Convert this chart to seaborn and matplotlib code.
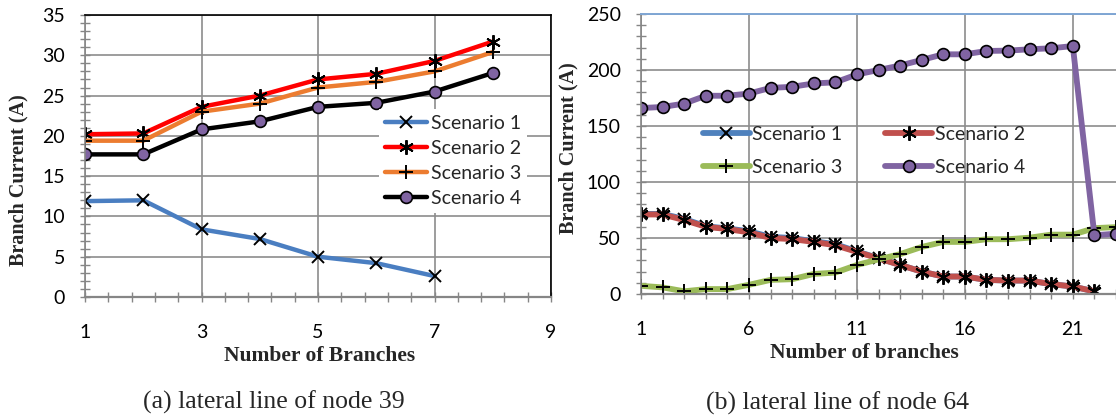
import matplotlib
matplotlib.use("Agg")
import numpy as np
import pandas as pd
import matplotlib.pyplot as plt
import seaborn as sns
from matplotlib.ticker import FixedLocator, MultipleLocator

# ---------------- data ----------------
left_branches = [1, 2, 3, 4, 5, 6, 7, 8]
left_s1 = [11.9, 12.0, 8.4, 7.2, 5.0, 4.2, 2.6]
left_s2 = [20.2, 20.3, 23.6, 25.0, 27.0, 27.7, 29.3, 31.7]
left_s3 = [19.4, 19.4, 23.0, 24.0, 26.0, 26.7, 28.0, 30.4]
left_s4 = [17.7, 17.7, 20.8, 21.8, 23.6, 24.1, 25.5, 27.8]

right_branches = list(range(1, 24))
right_s1 = [71.5, 71.5, 67, 60.5, 58.5, 56, 51, 50, 47, 44.5, 38, 32, 26, 20, 15.6, 15.6, 12.6, 12, 12, 8.8, 6.7, 2.3]
right_s2 = [71, 71, 66, 60, 58, 55, 50, 49, 46.5, 43.5, 37.6, 31.8, 25.9, 20, 15.6, 15.6, 12.6, 12, 12, 8.8, 6.7, 2.3]
right_s3 = [7.3, 5.9, 2.4, 4.4, 4.4, 8.2, 12.6, 13.2, 17.9, 19.1, 25.9, 30.9, 35.6, 42, 46.5, 46.5, 48.9, 48.9, 50.3, 53, 53, 58.8, 59.7]
right_s4 = [166, 167, 170, 177, 177, 179, 184, 185, 188, 189, 196, 200, 204, 209, 214, 214, 217, 217.3, 218.5, 219.4, 221.4, 52.4, 53.9]

labels = ["Scenario 1", "Scenario 2", "Scenario 3", "Scenario 4"]
left_xticks = [1, 3, 5, 7, 9]
right_xticks = [1, 6, 11, 16, 21]

# ---------------- style ----------------
sns.set_style("white")
plt.rcParams["font.family"] = ["Lato", "DejaVu Sans"]
plt.rcParams["axes.unicode_minus"] = False

W, H = 1116, 419
fig = plt.figure(figsize=(W / 100, H / 100), dpi=100)

def px_axes(x0, y0, x1, y1):
    return fig.add_axes([x0 / W, 1 - y1 / H, (x1 - x0) / W, (y1 - y0) / H])

axL = px_axes(85, 15, 551, 297)
axR = px_axes(641, 14, 1116, 294)

GRID = "#8c8c8c"
TICKC = "#868686"
TICK_FS = 14

def series(ax, xs, ys, color, marker, ms, mfc, lw, label, mew=1.4):
    n = len(ys)
    df = pd.DataFrame({"x": xs[:n], "y": ys})
    sns.lineplot(data=df, x="x", y="y", ax=ax, color=color, lw=lw,
                 marker=marker, markersize=ms, markerfacecolor=mfc,
                 markeredgecolor="black", markeredgewidth=mew,
                 label=label, legend=False, sort=False)

# ---- left chart ----
series(axL, left_branches, left_s1, "#4A7EC1", "x", 9, "black", 3.2, labels[0])
series(axL, left_branches, left_s2, "#FF0000", (6, 2, 0), 10.5, "black", 3.2, labels[1])
series(axL, left_branches, left_s3, "#EC7C30", "+", 10, "black", 3.2, labels[2])
series(axL, left_branches, left_s4, "#000000", "o", 8.5, "#8064A2", 3.2, labels[3], mew=1.2)

axL.set_xlim(1, 9)
axL.set_ylim(0, 35)
axL.xaxis.set_major_locator(FixedLocator(left_xticks))
axL.xaxis.set_minor_locator(FixedLocator(np.arange(1, 9.01, 0.4)))
axL.yaxis.set_major_locator(MultipleLocator(5))
axL.yaxis.set_minor_locator(MultipleLocator(1))

# ---- right chart ----
series(axR, right_branches, right_s1, "#4F81BD", "x", 9, "black", 4.2, labels[0])
series(axR, right_branches, right_s2, "#C0504D", (6, 2, 0), 10.5, "black", 4.2, labels[1])
series(axR, right_branches, right_s3, "#9BBB59", "+", 10, "black", 4.2, labels[2])
series(axR, right_branches, right_s4, "#8064A2", "o", 8.5, "#8064A2", 4.2, labels[3], mew=1.2)

axR.set_xlim(1, 23)
axR.set_ylim(0, 250)
axR.xaxis.set_major_locator(FixedLocator(right_xticks))
axR.xaxis.set_minor_locator(MultipleLocator(1))
axR.yaxis.set_major_locator(MultipleLocator(50))
axR.yaxis.set_minor_locator(MultipleLocator(10))

for ax in (axL, axR):
    ax.set_xlabel("")
    ax.set_ylabel("")
    ax.grid(True, which="major", color=GRID, lw=1.2)
    ax.set_axisbelow(True)
    ax.tick_params(axis="both", which="both", direction="inout", length=7,
                   width=1.0, color=TICKC, labelsize=TICK_FS, labelcolor="black",
                   bottom=True, left=True, top=False, right=False)
    ax.tick_params(axis="x", which="major", pad=16)
    ax.tick_params(axis="y", which="major", pad=11)
    ax.spines["left"].set_color(TICKC)
    ax.spines["left"].set_linewidth(1.2)
    ax.spines["bottom"].set_color(TICKC)
    ax.spines["bottom"].set_linewidth(1.6)

axL.spines["top"].set_color("black")
axL.spines["right"].set_color("black")
axL.spines["top"].set_linewidth(1.2)
axL.spines["right"].set_linewidth(1.2)
axR.spines["top"].set_color("#7FA6D4")
axR.spines["top"].set_linewidth(1.4)
axR.spines["right"].set_visible(False)

# ---- legends ----
hL, lL = axL.get_legend_handles_labels()
legL = axL.legend(hL, lL, loc="center", bbox_to_anchor=(453 / W, 1 - 161 / H),
                  bbox_transform=fig.transFigure, frameon=True, facecolor="white",
                  edgecolor="none", framealpha=1, fancybox=False, fontsize=TICK_FS,
                  handlelength=2.2, handletextpad=0.2, labelspacing=0.42, borderpad=0.3)
hR, lR = axR.get_legend_handles_labels()
order = [0, 2, 1, 3]  # row-wise: S1 S2 / S3 S4
legR = axR.legend([hR[i] for i in order], [lR[i] for i in order], loc="center",
                  bbox_to_anchor=(864 / W, 1 - 151 / H),
                  bbox_transform=fig.transFigure, frameon=False, ncol=2,
                  fontsize=TICK_FS, handlelength=2.4, handletextpad=0.15,
                  columnspacing=2.2, labelspacing=0.85)

# ---- axis titles & captions ----
serif = ["Liberation Serif", "DejaVu Serif"]
fig.text(320 / W, 1 - 356 / H, "Number of Branches", ha="center", va="center",
         family=serif, weight="bold", fontsize=15.5)
fig.text(864 / W, 1 - 353 / H, "Number of branches", ha="center", va="center",
         family=serif, weight="bold", fontsize=15.5)
fig.text(18.5 / W, 1 - 180 / H, "Branch Current (A)", ha="center", va="center",
         rotation=90, family=serif, weight="bold", fontsize=14.5)
fig.text(568 / W, 1 - 148 / H, "Branch Current (A)", ha="center", va="center",
         rotation=90, family=serif, weight="bold", fontsize=14.5)
fig.text(274 / W, 1 - 402 / H, "(a) lateral line of node 39", ha="center", va="center",
         family=serif, fontsize=18.5)
fig.text(838 / W, 1 - 403 / H, "(b) lateral line of node 64", ha="center", va="center",
         family=serif, fontsize=18.5)

fig.savefig("out.png", dpi=100, facecolor="white")
